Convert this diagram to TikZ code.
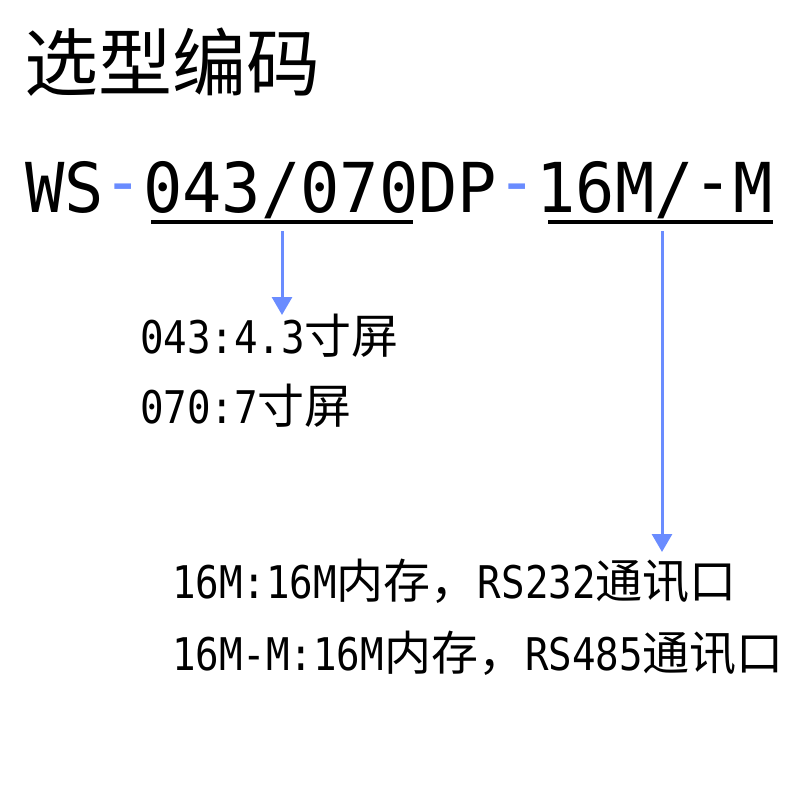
\documentclass[tikz,border=0pt]{standalone}
\usepackage{fontspec}
\usepackage{graphicx}
\usetikzlibrary{arrows.meta}
\newfontfamily\latfont[FakeStretch=0.95]{DejaVu Sans Mono}
\newfontfamily\latnarrow[FakeStretch=0.87]{DejaVu Sans Mono}
\newfontfamily\cjkfont{Noto Sans CJK SC}
\definecolor{arrowblue}{HTML}{6A8CFF}
\newcommand{\latsub}{\latnarrow\fontsize{45}{52}\selectfont}
\newcommand{\cjksub}{\cjkfont\fontsize{47}{52}\selectfont}
\newcommand{\highdash}{\raisebox{0.1em}{-}}
\tikzset{
  txt/.style={anchor=base west, inner sep=0pt, outer sep=0pt},
  uline/.style={line width=4pt, black},
  pointer/.style={line width=3pt, arrowblue, -{Triangle[width=20pt,length=18pt]}},
}
\begin{document}
\begin{tikzpicture}[x=1pt,y=-1pt]
\useasboundingbox (0,0) rectangle (800,800);
\node[txt, font=\cjkfont\fontsize{74}{80}\selectfont] (title) at (24,90) {选型编码};
\node[txt, font=\latfont\fontsize{68.8}{70}\selectfont] (code) at (25,212)
  {WS\textcolor{arrowblue}{\highdash}043/070DP\textcolor{arrowblue}{\highdash}16M/\highdash M};
\coordinate (u1a) at (151,222);
\coordinate (u1b) at (413,222);
\coordinate (u2a) at (548,222);
\coordinate (u2b) at (773,222);
\draw[uline] (u1a) -- (u1b);
\draw[uline] (u2a) -- (u2b);
\node[txt] (l1) at (140,353) {\latsub 043:4.3\cjksub 寸屏};
\node[txt] (l2) at (140,423) {\latsub 070:7\cjksub 寸屏};
\node[txt] (l3) at (172,598)
  {\latsub 16M:16M\cjksub 内存，\latsub RS232\cjksub 通讯口};
\node[txt] (l4) at (172,670)
  {\latsub 16M-M:16M\cjksub 内存，\latsub RS485\cjksub 通讯口};
\coordinate (a1s) at (282,231);
\coordinate (a1e) at (282,315);
\coordinate (a2s) at (662,231);
\coordinate (a2e) at (662,552);
\draw[pointer] (a1s) -- (a1e);
\draw[pointer] (a2s) -- (a2e);
\end{tikzpicture}
\end{document}
